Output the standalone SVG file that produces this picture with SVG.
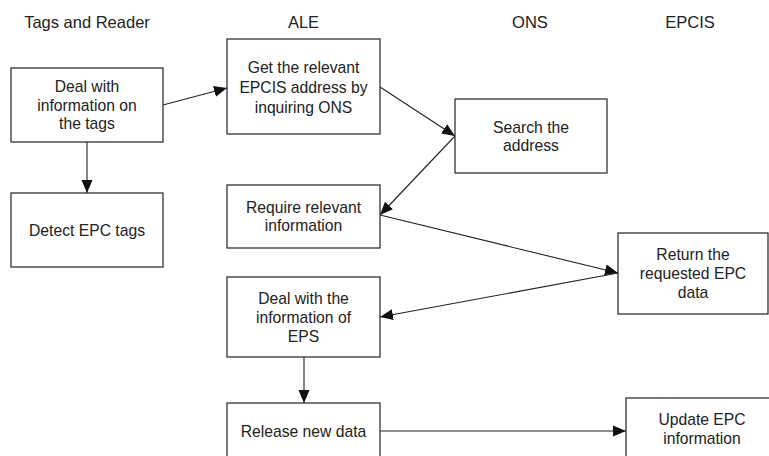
<svg xmlns="http://www.w3.org/2000/svg" width="769" height="456" viewBox="0 0 769 456">
<style>
  .box { fill: #ffffff; stroke: #333333; stroke-width: 1.3; }
  .t { font-family: "Liberation Sans", Arial, Helvetica, sans-serif; font-size: 15.7px; fill: #222222; text-anchor: middle; }
  .h { font-size: 16.5px; }
  .edge { stroke: #222222; stroke-width: 1.1; fill: none; marker-end: url(#arr); }
</style>
<defs>
  <marker id="arr" markerUnits="userSpaceOnUse" markerWidth="14" markerHeight="12" refX="13" refY="6" orient="auto">
    <path d="M0,0.5 L13,6 L0,11.5 Z" fill="#111111"/>
  </marker>
</defs>
<rect width="769" height="456" fill="#ffffff"/>
<g id="headers">
  <text class="t h" x="87" y="27.5">Tags and Reader</text>
  <text class="t h" x="303.5" y="27.5">ALE</text>
  <text class="t h" x="530" y="27.5">ONS</text>
  <text class="t h" x="690" y="27.5">EPCIS</text>
</g>
<g id="connectors">
  <line class="edge" x1="163" y1="105" x2="227" y2="88"/>
  <line class="edge" x1="87" y1="142" x2="87" y2="193"/>
  <line class="edge" x1="380" y1="87" x2="455" y2="136"/>
  <line class="edge" x1="455" y1="136" x2="380" y2="215"/>
  <line class="edge" x1="380" y1="215" x2="618" y2="273"/>
  <line class="edge" x1="618" y1="273" x2="380" y2="317"/>
  <line class="edge" x1="304" y1="357" x2="304" y2="403"/>
  <line class="edge" x1="380" y1="431" x2="626" y2="431"/>
</g>
<g id="n1">
  <rect class="box" x="11" y="68" width="152" height="74"/>
  <text class="t" x="87" y="92">Deal with</text>
  <text class="t" x="87" y="110.5">information on</text>
  <text class="t" x="87" y="129">the tags</text>
</g>
<g id="n2">
  <rect class="box" x="11" y="193" width="152" height="74"/>
  <text class="t" x="87" y="235.5">Detect EPC tags</text>
</g>
<g id="n3">
  <rect class="box" x="227" y="39" width="153" height="95"/>
  <text class="t" x="303.5" y="72.5">Get the relevant</text>
  <text class="t" x="303.5" y="93">EPCIS address by</text>
  <text class="t" x="303.5" y="113">inquiring ONS</text>
</g>
<g id="n4">
  <rect class="box" x="455" y="99" width="152" height="74"/>
  <text class="t" x="531" y="132.5">Search the</text>
  <text class="t" x="531" y="151">address</text>
</g>
<g id="n5">
  <rect class="box" x="227" y="185" width="153" height="63"/>
  <text class="t" x="303.5" y="212.5">Require relevant</text>
  <text class="t" x="303.5" y="230.5">information</text>
</g>
<g id="n6">
  <rect class="box" x="618" y="233" width="150" height="81"/>
  <text class="t" x="693" y="260">Return the</text>
  <text class="t" x="693" y="279">requested EPC</text>
  <text class="t" x="693" y="297.5">data</text>
</g>
<g id="n7">
  <rect class="box" x="227" y="277" width="153" height="80"/>
  <text class="t" x="303.5" y="303.5">Deal with the</text>
  <text class="t" x="303.5" y="322.5">information of</text>
  <text class="t" x="303.5" y="341.5">EPS</text>
</g>
<g id="n8">
  <rect class="box" x="227" y="403" width="153" height="60"/>
  <text class="t" x="303.5" y="436.5">Release new data</text>
</g>
<g id="n9">
  <rect class="box" x="626" y="398" width="152" height="65"/>
  <text class="t" x="702" y="425">Update EPC</text>
  <text class="t" x="702" y="443.5">information</text>
</g>
</svg>
